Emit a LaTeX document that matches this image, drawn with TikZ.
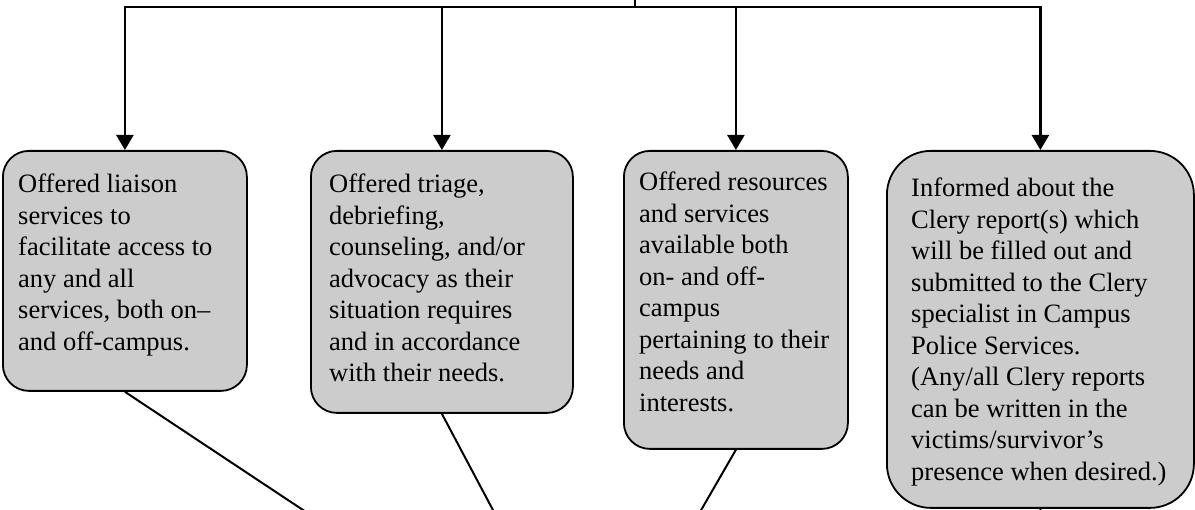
\documentclass[tikz,border=0pt]{standalone}
\usepackage{fontspec}
\setmainfont{Liberation Serif}
\usetikzlibrary{arrows.meta, positioning}

\begin{document}
\begin{tikzpicture}[x=1pt, y=-1pt,
    every node/.style={font=\fontsize{26.5}{31.5}\selectfont},
    infobox/.style={draw, line width=1.8pt, fill=boxgray, rounded corners=26pt, inner sep=0pt, anchor=north west},
    boxtext/.style={anchor=north west, align=left, inner sep=0pt},
    feed/.style={line width=2.4pt, -{Triangle[width=17pt, length=15pt]}},
    link/.style={line width=2pt}]
    % Colours
    \definecolor{boxgray}{RGB}{204,204,204}

    \useasboundingbox (0,0) rectangle (1195,510);

    % Boxes
    \node[infobox, minimum width=244pt, minimum height=240pt] (b1) at (2,150) {};
    \node[infobox, minimum width=262pt, minimum height=262pt] (b2) at (310,150) {};
    \node[infobox, minimum width=224pt, minimum height=298pt] (b3) at (623,150) {};
    \node[infobox, minimum width=307pt, minimum height=357pt, rounded corners=44pt] (b4) at (886,150) {};

    % Box texts
    \node[boxtext] (t1) at ([shift={(16,24)}]b1.north west)
        {Offered liaison\\services to\\facilitate access to\\any and all\\services, both on–\\and off-campus.};
    \node[boxtext] (t2) at ([shift={(19,24)}]b2.north west)
        {Offered triage,\\debriefing,\\counseling, and/or\\advocacy as their\\situation requires\\and in accordance\\with their needs.};
    \node[boxtext] (t3) at ([shift={(16,22)}]b3.north west)
        {Offered resources\\and services\\available both\\on- and off-\\campus\\pertaining to their\\needs and\\interests.};
    \node[boxtext] (t4) at ([shift={(25,28)}]b4.north west)
        {Informed about the\\Clery report(s) which\\will be filled out and\\submitted to the Clery\\specialist in Campus\\Police Services.\\(Any/all Clery reports\\can be written in the\\victims/survivor’s\\presence when desired.)};

    % Top branch
    \coordinate (top) at (635,0);
    \coordinate (hub) at (635,7);
    \draw[line width=2.4pt] (top) -- (hub);
    \draw[feed] (hub) -| (b1.north);
    \draw[feed] (hub) -| (b2.north);
    \draw[feed] (hub) -| (b3.north);
    \draw[feed] (hub) -| (b4.north);

    % Lines leaving at the bottom
    \coordinate (e1) at (306,512);
    \coordinate (e2) at (494,512);
    \coordinate (e3) at (700,512);
    \coordinate (e4) at (1040,512);
    \draw[link] (b1.south) -- (e1);
    \draw[link] (b2.south) -- (e2);
    \draw[link] (b3.south) -- (e3);
    \draw[link] (b4.south) -- (e4);
\end{tikzpicture}
\end{document}
